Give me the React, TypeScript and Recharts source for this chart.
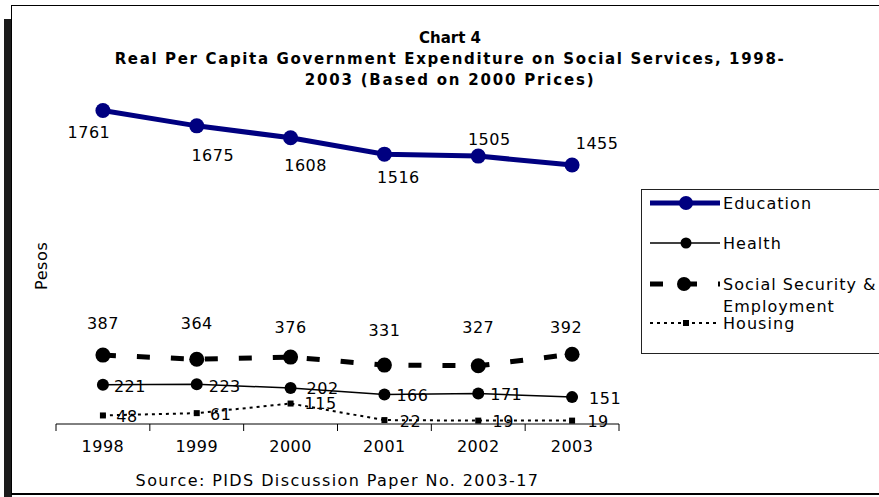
import React from 'react';
import { LineChart, Line, XAxis, YAxis, LabelList } from 'recharts';

const years = [1998, 1999, 2000, 2001, 2002, 2003];
const yearEdges = [1997.5, 1998.5, 1999.5, 2000.5, 2001.5, 2002.5, 2003.5];
const education = [1761, 1675, 1608, 1516, 1505, 1455];
const health = [221, 223, 202, 166, 171, 151];
const socialSecurity = [387, 364, 376, 331, 327, 392];
const housing = [48, 61, 115, 22, 19, 19];

const data = years.map((year, i) => ({
  year,
  education: education[i],
  health: health[i],
  social: socialSecurity[i],
  housing: housing[i],
}));

const FONT = '"DejaVu Sans", Verdana, sans-serif';
const NAVY = '#000080';

// hand placed label offsets, like the original excel chart
const eduOffsets = [[-14, 22], [16, 30], [15, 28], [14, 23], [11, -17], [25, -22]];
const socialOffsets = [[0, -32], [0, -36], [0, -30], [0, -35], [0, -38], [-6, -27]];
const healthOffsets = [[27, 2], [28, 2], [32, 0], [28, 1], [28, 1], [33, 1]];
const housingOffsets = [[24, 1], [24, 1], [30, 0], [26, 1], [25, 1], [26, 1]];

const makeLabel = (offsets: number[][]) => (props: any) => {
  const { x, y, value, index } = props;
  const [dx, dy] = offsets[index] || [0, 0];
  return (
    <text
      key={`l-${index}`}
      x={x + dx}
      y={y + dy}
      textAnchor="middle"
      dominantBaseline="central"
      fontFamily={FONT}
      fontSize={16}
      letterSpacing={0.5}
      fill="#000"
    >
      {value}
    </text>
  );
};

const circleDot = (r: number, fill: string) => (props: any) => (
  <circle key={`d-${props.index}`} cx={props.cx} cy={props.cy} r={r} fill={fill} stroke="none" />
);

const squareDot = (props: any) => (
  <rect key={`s-${props.index}`} x={props.cx - 3} y={props.cy - 3} width={6} height={6} fill="#000" />
);

const legendText = { dominantBaseline: 'central' as const, fontFamily: FONT, fontSize: 16, letterSpacing: 1.05 };

const LegendBox = () => (
  <div
    style={{
      position: 'absolute',
      left: 641,
      top: 189,
      width: 260,
      height: 163,
      border: '1px solid #222',
      background: '#fff',
    }}
  >
    <svg width={260} height={163} style={{ position: 'absolute', left: 0, top: 0 }}>
      <line x1={8} x2={78} y1={13} y2={13} stroke={NAVY} strokeWidth={5} />
      <circle cx={44} cy={13} r={7} fill={NAVY} />
      <text x={81} y={13} {...legendText}>Education</text>

      <line x1={8} x2={78} y1={53} y2={53} stroke="#000" strokeWidth={1.5} />
      <circle cx={44} cy={53} r={5.5} fill="#000" />
      <text x={81} y={53} {...legendText}>Health</text>

      <line x1={8} x2={78} y1={94} y2={94} stroke="#000" strokeWidth={5} strokeDasharray="13 21" />
      <circle cx={42} cy={94} r={7} fill="#000" />
      <text x={81} y={94} {...legendText}>Social Security &amp;</text>
      <text x={81} y={116} {...legendText}>Employment</text>

      <line x1={8} x2={78} y1={133} y2={133} stroke="#000" strokeWidth={2} strokeDasharray="3 4" />
      <rect x={41} y={130} width={6} height={6} fill="#000" />
      <text x={81} y={133} {...legendText}>Housing</text>
    </svg>
  </div>
);

const App: React.FC = () => {
  return (
    <div
      style={{
        position: 'absolute',
        left: 0,
        top: 0,
        width: 879,
        height: 497,
        overflow: 'hidden',
        background: '#fff',
        fontFamily: FONT,
      }}
    >
      <div style={{ position: 'absolute', left: 4, top: 19, width: 8, height: 490, background: '#1c1c1c' }} />
      <div
        style={{
          position: 'absolute',
          left: 11,
          top: 5,
          width: 900,
          height: 487,
          borderTop: '1px solid #000',
          borderLeft: '1px solid #000',
          borderBottom: '2px solid #000',
          background: '#fff',
        }}
      />
      <div
        style={{
          position: 'absolute',
          left: 0,
          width: 900,
          top: 28,
          textAlign: 'center',
          fontWeight: 'bold',
          fontSize: 15,
          lineHeight: '21px',
          color: '#000',
        }}
      >
        <div>Chart 4</div>
        <div style={{ letterSpacing: 1.65 }}>Real Per Capita Government Expenditure on Social Services, 1998-</div>
        <div style={{ letterSpacing: 1.8 }}>2003 (Based on 2000 Prices)</div>
      </div>
      <div
        style={{
          position: 'absolute',
          left: 20,
          top: 258,
          width: 44,
          textAlign: 'center',
          fontSize: 16,
          letterSpacing: 0.6,
          lineHeight: '20px',
          transform: 'rotate(-90deg)',
        }}
      >
        Pesos
      </div>
      <div style={{ position: 'absolute', left: 0, top: 0 }}>
        <LineChart
          width={879}
          height={497}
          data={data}
          margin={{ top: 68, right: 260, bottom: 42, left: 56 }}
        >
          <XAxis
            dataKey="year"
            type="number"
            domain={[1997.5, 2003.5]}
            ticks={yearEdges}
            interval={0}
            tickFormatter={() => ''}
            tickSize={7}
            height={1}
            stroke="#000"
            allowDataOverflow
          />
          <XAxis
            xAxisId="years"
            dataKey="year"
            type="number"
            domain={[1997.5, 2003.5]}
            ticks={years}
            interval={0}
            tickLine={false}
            axisLine={false}
            tickSize={0}
            tickMargin={16}
            height={30}
            tick={{ fontSize: 16, fill: '#000', fontFamily: FONT, letterSpacing: 0.5 }}
            allowDataOverflow
          />
          <YAxis hide domain={[0, 2000]} />
          <Line
            dataKey="education"
            stroke={NAVY}
            strokeWidth={5}
            dot={circleDot(7.5, NAVY)}
            isAnimationActive={false}
          >
            <LabelList dataKey="education" content={makeLabel(eduOffsets)} />
          </Line>
          <Line
            dataKey="social"
            stroke="#000"
            strokeWidth={5}
            strokeDasharray="13 21"
            dot={circleDot(7.5, '#000')}
            isAnimationActive={false}
          >
            <LabelList dataKey="social" content={makeLabel(socialOffsets)} />
          </Line>
          <Line
            dataKey="health"
            stroke="#000"
            strokeWidth={1.5}
            dot={circleDot(6, '#000')}
            isAnimationActive={false}
          >
            <LabelList dataKey="health" content={makeLabel(healthOffsets)} />
          </Line>
          <Line
            dataKey="housing"
            stroke="#000"
            strokeWidth={2}
            strokeDasharray="3 4"
            dot={squareDot}
            isAnimationActive={false}
          >
            <LabelList dataKey="housing" content={makeLabel(housingOffsets)} />
          </Line>
        </LineChart>
      </div>
      <LegendBox />
      <div
        style={{
          position: 'absolute',
          left: 56,
          width: 563,
          top: 471,
          textAlign: 'center',
          fontSize: 16,
          letterSpacing: 1.4,
          lineHeight: '20px',
        }}
      >
        Source: PIDS Discussion Paper No. 2003-17
      </div>
    </div>
  );
};

export default App;
